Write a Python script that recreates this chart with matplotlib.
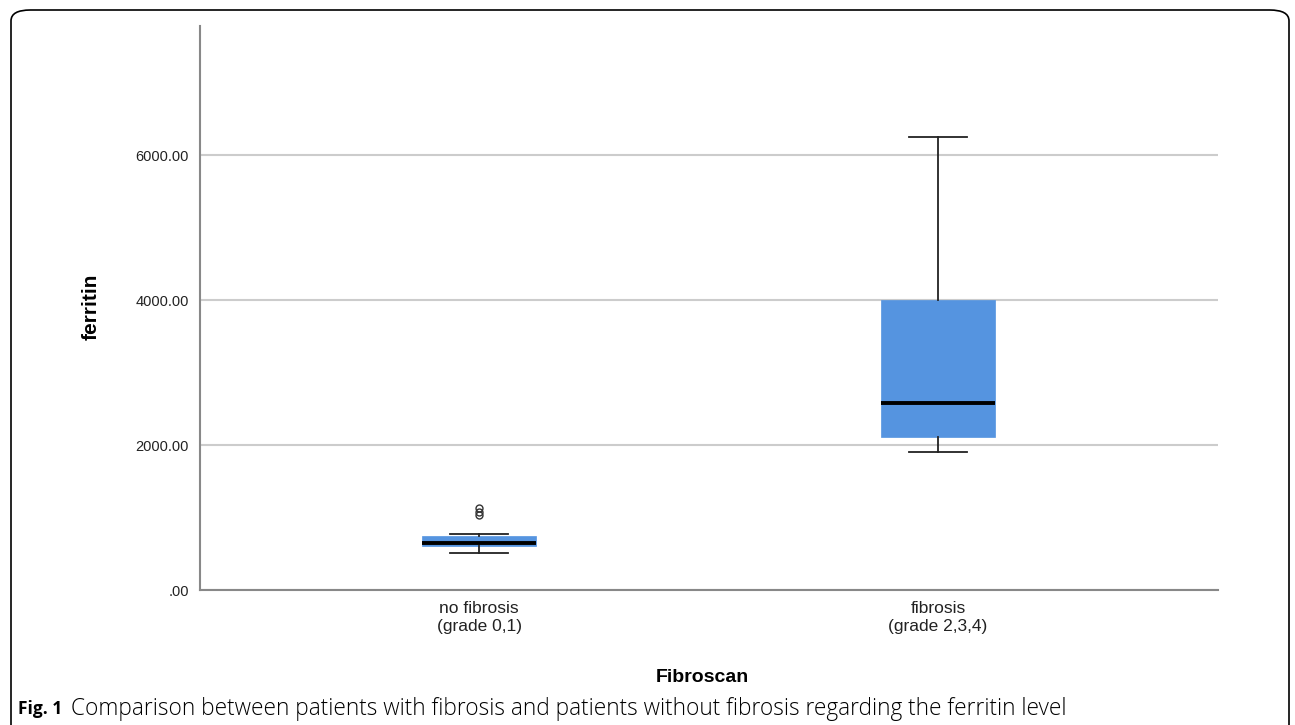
"""Boxplot of ferritin level by Fibroscan group."""

import matplotlib.pyplot as plt
from matplotlib.patches import FancyBboxPatch
from matplotlib.ticker import FuncFormatter

plt.rcParams['font.family'] = ['Liberation Sans', 'DejaVu Sans']

# box statistics
group_labels = ['no fibrosis\n(grade 0,1)', 'fibrosis\n(grade 2,3,4)']
whisker_low = [506, 1900]
box_q1 = [607, 2115]
box_median = [652, 2575]
box_q3 = [749, 4000]
whisker_high = [768, 6250]
outliers = [[1030, 1080, 1130], []]

y_ticks = [0, 2000, 4000, 6000]

stats = []
for i, label in enumerate(group_labels):
    stats.append({
        'label': label,
        'whislo': whisker_low[i],
        'q1': box_q1[i],
        'med': box_median[i],
        'q3': box_q3[i],
        'whishi': whisker_high[i],
        'fliers': outliers[i],
    })

fig = plt.figure(figsize=(12.95, 7.25), dpi=100)
ax = fig.add_axes([200 / 1295, 1 - 590 / 725, 1018 / 1295, 564 / 725])

ax.bxp(stats, positions=[1, 2], widths=0.25, patch_artist=True,
       capwidths=0.125,
       boxprops=dict(facecolor='#5594e0', edgecolor='#5594e0', linewidth=0.5),
       medianprops=dict(color='black', linewidth=2.8),
       whiskerprops=dict(color='#222222', linewidth=1.3),
       capprops=dict(color='#222222', linewidth=1.3),
       flierprops=dict(marker='o', markersize=5, markerfacecolor='none',
                       markeredgecolor='#333333', markeredgewidth=1.0),
       zorder=3)

ax.set_xlim(0.392, 2.61)
ax.set_ylim(0, 7780)
ax.set_yticks(y_ticks)
ax.yaxis.set_major_formatter(
    FuncFormatter(lambda v, _: '.00' if v == 0 else f'{v:.2f}'))
ax.grid(axis='y', color='#cccccc', linewidth=1.5, zorder=0)
ax.set_axisbelow(True)

for side in ['top', 'right']:
    ax.spines[side].set_visible(False)
for side in ['left', 'bottom']:
    ax.spines[side].set_color('#888888')
    ax.spines[side].set_linewidth(1.5)

ax.tick_params(axis='both', length=0, labelsize=10.5, colors='#222222', pad=8)
ax.tick_params(axis='x', labelsize=12.5, pad=8)

ax.set_ylabel('ferritin', fontsize=15, fontweight='bold')
ax.yaxis.set_label_coords((91 - 200) / 1018, 0.5 + (590 - 307 - 282) / 564)
ax.set_xlabel('Fibroscan', fontsize=14, fontweight='bold')
ax.xaxis.set_label_coords((702 - 200) / 1018, -(678 - 590) / 564)
ax.xaxis.label.set_va('center')
ax.yaxis.label.set_va('center')

# rounded frame around the figure panel
frame = FancyBboxPatch((11 / 1295, -0.05), 1278 / 1295, 1 - 10 / 725 + 0.05,
                       boxstyle='round,pad=0,rounding_size=0.015',
                       transform=fig.transFigure, facecolor='none',
                       edgecolor='black', linewidth=1.2, clip_on=False)
fig.patches.append(frame)

caption_font = ['Open Sans', 'DejaVu Sans']
fig.text(18 / 1295, 1 - 709 / 725, 'Fig. 1', fontsize=12.5, fontweight='bold',
         family=caption_font, va='center', ha='left')
fig.text(71 / 1295, 1 - 709 / 725,
         'Comparison between patients with fibrosis and patients without '
         'fibrosis regarding the ferritin level',
         fontsize=16.3, family=caption_font, fontweight='light',
         va='center', ha='left')

fig.savefig('out.png', dpi=100)
